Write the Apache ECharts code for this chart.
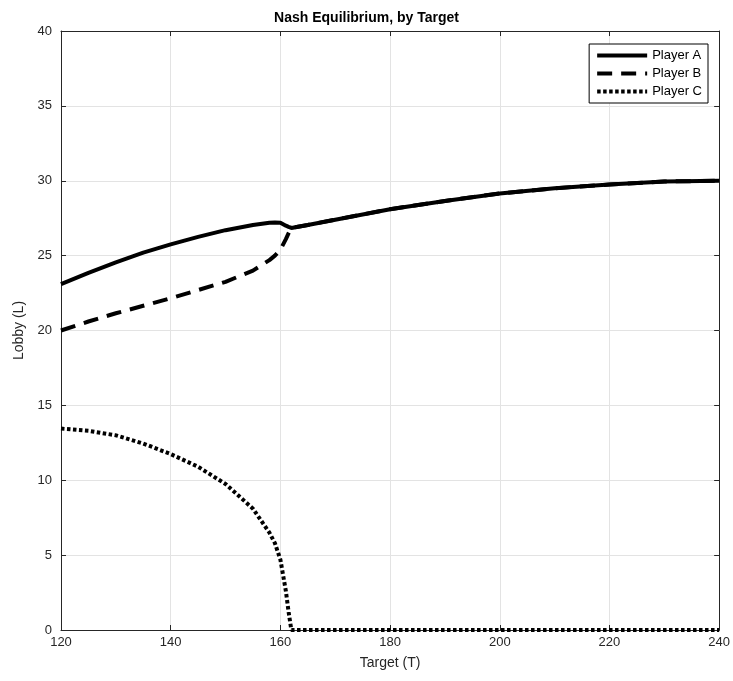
<!DOCTYPE html>
<html>
<head>
<meta charset="utf-8">
<script src="https://cdn.jsdelivr.net/npm/echarts@6/dist/echarts.min.js"></script>
<style>
  html, body { margin: 0; padding: 0; background: #fff; }
  #main { width: 733px; height: 681px; }
</style>
</head>
<body>
<div id="main"></div>
<script>
// target values (x) shared by all three players
const targetT = [120, 125, 130, 135, 140, 145, 150, 155, 158, 159, 160, 161, 161.5, 162, 165, 170, 180, 190, 200, 210, 220, 230, 240];
// lobby values
const lobbyA = [23.1, 23.85, 24.55, 25.2, 25.75, 26.25, 26.7, 27.05, 27.2, 27.22, 27.2, 27.0, 26.92, 26.85, 27.05, 27.4, 28.1, 28.65, 29.15, 29.5, 29.75, 29.95, 30.0];
const lobbyB = [20.0, 20.6, 21.15, 21.65, 22.15, 22.7, 23.25, 24.0, 24.7, 25.0, 25.4, 26.1, 26.5, 26.85, 27.05, 27.4, 28.1, 28.65, 29.15, 29.5, 29.75, 29.95, 30.0];
const lobbyC = [13.45, 13.3, 13.0, 12.45, 11.75, 10.9, 9.75, 8.1, 6.5, 5.8, 4.7, 2.6, 1.2, 0, 0, 0, 0, 0, 0, 0, 0, 0, 0];
const playerNames = ['Player A', 'Player B', 'Player C'];

const pairs = ys => targetT.map((t, i) => [t, ys[i]]);

const chart = echarts.init(document.getElementById('main'));

const font = 'Liberation Sans, Arial, sans-serif';
const axisCol = '#262626';

// box axes on top / right: only line and inward ticks
function frameAxis(extra) {
  return Object.assign({
    axisLine: { show: true, onZero: false, lineStyle: { color: axisCol, width: 1 } },
    axisTick: { show: true, inside: true, length: 5, lineStyle: { color: axisCol } },
    axisLabel: { show: false },
    splitLine: { show: false }
  }, extra);
}

const option = {
  animation: false,
  backgroundColor: '#fff',
  title: {
    text: 'Nash Equilibrium, by Target',
    left: 'center',
    top: 6,
    textStyle: { fontFamily: font, fontSize: 14, fontWeight: 'bold', color: '#000' }
  },
  legend: {
    orient: 'vertical',
    right: 25,
    top: 44,
    padding: [5, 6, 5, 6],
    itemGap: 5,
    itemWidth: 50,
    itemHeight: 14,
    borderColor: '#000',
    borderWidth: 1,
    borderRadius: 0,
    backgroundColor: '#fff',
    data: playerNames,
    itemStyle: { opacity: 0 },
    lineStyle: { width: 4 },
    textStyle: { fontFamily: font, fontSize: 13, color: '#000' }
  },
  grid: { left: 61, right: 12, top: 31, bottom: 51 },
  xAxis: [
    {
      type: 'value',
      min: 120, max: 240, interval: 20,
      name: 'Target (T)',
      nameLocation: 'middle',
      nameGap: 26,
      nameTextStyle: { fontFamily: font, fontSize: 14, color: axisCol },
      axisLine: { show: true, onZero: false, lineStyle: { color: axisCol, width: 1 } },
      axisTick: { show: true, inside: true, length: 5, lineStyle: { color: axisCol } },
      axisLabel: { fontFamily: font, fontSize: 13, color: axisCol, margin: 6 },
      splitLine: { show: true, lineStyle: { color: '#e3e3e3', width: 1 } }
    },
    frameAxis({ type: 'value', min: 120, max: 240, interval: 20, position: 'top' })
  ],
  yAxis: [
    {
      type: 'value',
      min: 0, max: 40, interval: 5,
      name: 'Lobby (L)',
      nameLocation: 'middle',
      nameGap: 34,
      nameTextStyle: { fontFamily: font, fontSize: 14, color: axisCol },
      axisLine: { show: true, onZero: false, lineStyle: { color: axisCol, width: 1 } },
      axisTick: { show: true, inside: true, length: 5, lineStyle: { color: axisCol } },
      axisLabel: { fontFamily: font, fontSize: 13, color: axisCol, margin: 9 },
      splitLine: { show: true, lineStyle: { color: '#e3e3e3', width: 1 } }
    },
    frameAxis({ type: 'value', min: 0, max: 40, interval: 5, position: 'right' })
  ],
  series: [
    {
      name: playerNames[0], type: 'line', data: pairs(lobbyA),
      symbol: 'none', z: 3,
      lineStyle: { color: '#000', width: 4, type: 'solid' },
      itemStyle: { color: '#000' }
    },
    {
      name: playerNames[1], type: 'line', data: pairs(lobbyB),
      symbol: 'none', z: 2,
      lineStyle: { color: '#000', width: 4, type: [15, 9] },
      itemStyle: { color: '#000' }
    },
    {
      name: playerNames[2], type: 'line', data: pairs(lobbyC),
      symbol: 'none', z: 2,
      lineStyle: { color: '#000', width: 4, type: [3.5, 2.5], cap: 'butt' },
      itemStyle: { color: '#000' }
    }
  ]
};

option && chart.setOption(option);
</script>
</body>
</html>
